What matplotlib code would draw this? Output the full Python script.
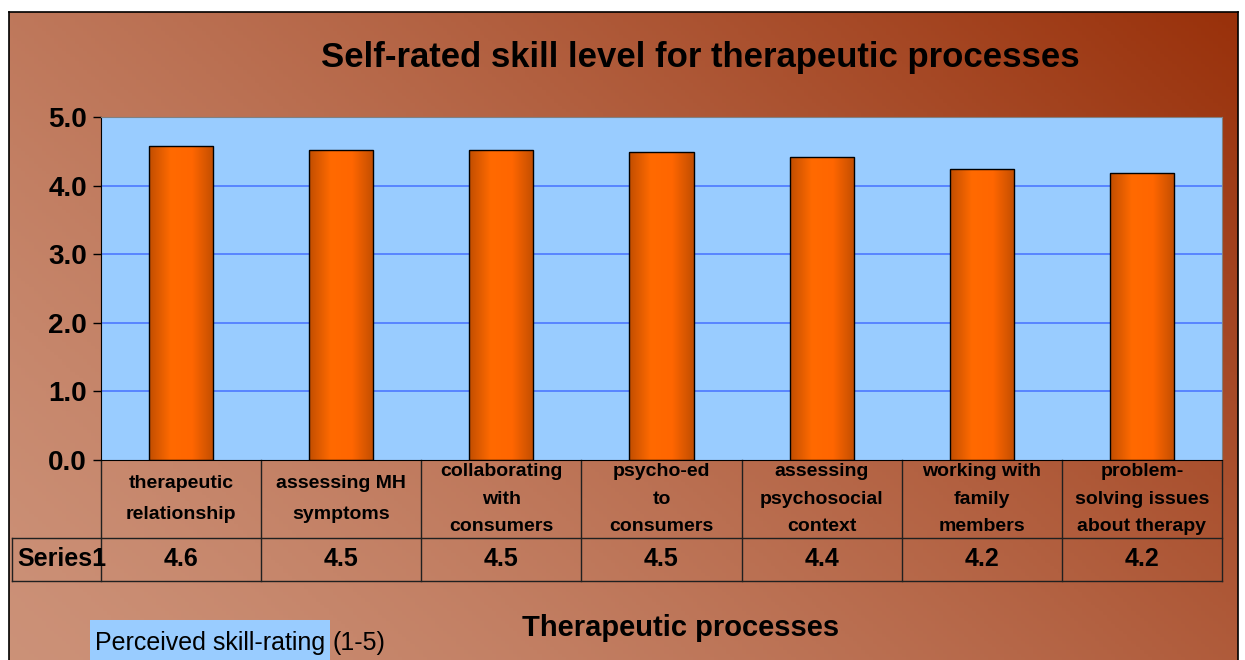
import numpy as np
import matplotlib
matplotlib.use("Agg")
from matplotlib import pyplot as plt
from matplotlib.colors import LinearSegmentedColormap
from matplotlib.patches import Rectangle

plt.rcParams['font.family'] = ['Liberation Sans', 'DejaVu Sans']

# data
categories = ['therapeutic\nrelationship', 'assessing MH\nsymptoms',
              'collaborating\nwith\nconsumers', 'psycho-ed\nto\nconsumers',
              'assessing\npsychosocial\ncontext', 'working with\nfamily\nmembers',
              'problem-\nsolving issues\nabout therapy']
ratings = [4.58, 4.52, 4.52, 4.49, 4.42, 4.24, 4.18]
series_name = 'Series1'
y_ticks = [0, 1, 2, 3, 4, 5]

W, H = 1245, 660
fig = plt.figure(figsize=(W / 100, H / 100), dpi=100)
fig.patch.set_facecolor('white')

# background with diagonal gradient (light lower-left -> dark rust upper-right)
bg = fig.add_axes([9 / W, 0, (1238 - 9) / W, 1 - 12 / H])
gx, gy = np.meshgrid(np.linspace(0, 1, 300), np.linspace(0, 1, 200))
t = np.clip((gx * 0.8 + gy * 0.45) / 1.25, 0, 1) ** 1.3
light = np.array([0.80, 0.57, 0.47])
dark = np.array([0.60, 0.19, 0.04])
img = light[None, None, :] + (dark - light)[None, None, :] * t[..., None]
bg.imshow(img, origin='lower', aspect='auto', extent=[0, 1, 0, 1])
bg.set_xticks([])
bg.set_yticks([])
for s in bg.spines.values():
    s.set_color('black')
    s.set_linewidth(1.2)
bg.spines['bottom'].set_visible(False)

# main plot area
ax = fig.add_axes([101 / W, 1 - 460 / H, 1121 / W, 343 / H])
ax.set_facecolor('#99ccff')
x = np.arange(len(ratings))
bars = ax.bar(x, ratings, width=0.4, facecolor='none', edgecolor='black',
              linewidth=1, zorder=3)

bar_cmap = LinearSegmentedColormap.from_list('barg', ['#c24e00', '#ff6a00', '#ff6600', '#c24e00'])
grad = np.linspace(0, 1, 100).reshape(1, -1)
for b in bars:
    x0, w, h = b.get_x(), b.get_width(), b.get_height()
    im = ax.imshow(grad, cmap=bar_cmap, aspect='auto', extent=[x0, x0 + w, 0, h], zorder=2)
    im.set_clip_path(b)

ax.set_xlim(-0.5, len(ratings) - 0.5)
ax.set_ylim(0, 5)
ax.set_yticks(y_ticks)
ax.set_yticklabels([f'{v:.1f}' for v in y_ticks], fontsize=20, fontweight='bold')
ax.tick_params(axis='y', direction='out', length=6, width=1, pad=4, colors='black')
ax.set_xticks([])
for v in y_ticks[1:-1]:
    ax.axhline(v, color='#4d79ff', linewidth=1.2, zorder=1)
ax.spines['left'].set_color('black')
ax.spines['bottom'].set_color('black')
ax.spines['top'].set_color('#808080')
ax.spines['right'].set_color('#808080')

# data table under the axis
trans = ax.get_xaxis_transform()
row1 = -(538 - 460) / 343
row2 = -(581 - 460) / 343
left_cell = -0.5 - (101 - 12) / 1121 * len(ratings)
kw = dict(transform=trans, clip_on=False, color='#202020', linewidth=1)
ax.plot([left_cell, len(ratings) - 0.5], [row1, row1], **kw)
ax.plot([left_cell, len(ratings) - 0.5], [row2, row2], **kw)
ax.plot([left_cell, left_cell], [row1, row2], **kw)
for i in range(len(ratings) + 1):
    ax.plot([i - 0.5, i - 0.5], [0, row2], **kw)

for i, (lab, v) in enumerate(zip(categories, ratings)):
    ls = 1.8 if lab.count('\n') > 1 else 2.05
    ax.text(i, row1 / 2, lab, transform=trans, ha='center', va='center',
            fontsize=14, fontweight='bold', linespacing=ls)
    ax.text(i, (row1 + row2) / 2, f'{v:.1f}', transform=trans, ha='center',
            va='center', fontsize=18, fontweight='bold')
ax.text(left_cell + 0.03, (row1 + row2) / 2, series_name, transform=trans,
        ha='left', va='center', fontsize=18, fontweight='bold')

# titles
fig.text(700 / W, 1 - 58 / H, 'Self-rated skill level for therapeutic processes',
         ha='center', va='center', fontsize=25, fontweight='bold')
fig.text(681 / W, 1 - 628 / H, 'Therapeutic processes', ha='center', va='center',
         fontsize=21, fontweight='bold')

fig.patches.append(Rectangle((90 / W, 0), 240 / W, 40 / H, transform=fig.transFigure,
                             facecolor='#99ccff', edgecolor='none'))
fig.text(95 / W, 1 - 643 / H, 'Perceived skill-rating', ha='left', va='center', fontsize=18)
fig.text(333 / W, 1 - 643 / H, '(1-5)', ha='left', va='center', fontsize=18)

fig.savefig('out.png', dpi=100)
